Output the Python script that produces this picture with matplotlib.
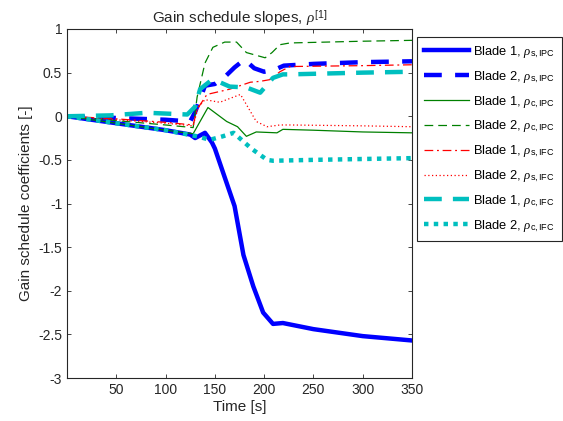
import numpy as np
import matplotlib
matplotlib.use("Agg")
import matplotlib.pyplot as plt

plt.rcParams["font.family"] = ["Liberation Sans", "DejaVu Sans"]
plt.rcParams["axes.unicode_minus"] = False
plt.rcParams["mathtext.fontset"] = "custom"
plt.rcParams["mathtext.rm"] = "Liberation Sans"
plt.rcParams["mathtext.it"] = "Liberation Serif:italic"

# --- data ---
t_b1_s_ipc = [0, 25, 50, 75, 100, 125, 130, 140, 147, 150, 160, 170, 179, 189, 199, 209, 219, 250, 300, 350]
b1_s_ipc = [0, -0.04, -0.08, -0.12, -0.16, -0.21, -0.25, -0.19, -0.30, -0.37, -0.70, -1.03, -1.59, -1.95,
            -2.25, -2.38, -2.37, -2.44, -2.52, -2.57]

t_b2_s_ipc = [0, 50, 100, 125, 130, 135, 140, 150, 160, 170, 180, 190, 200, 210, 220, 250, 300, 350]
b2_s_ipc = [0, -0.02, -0.04, -0.06, 0.05, 0.2, 0.35, 0.37, 0.45, 0.56, 0.65, 0.55, 0.51, 0.53, 0.58, 0.60, 0.62, 0.63]

t_b1_c_ipc = [0, 50, 100, 128, 143, 162, 173, 182, 192, 213, 219, 250, 300, 350]
b1_c_ipc = [0, -0.08, -0.16, -0.20, 0.10, -0.06, -0.12, -0.23, -0.18, -0.19, -0.15, -0.16, -0.18, -0.19]

t_b2_c_ipc = [0, 50, 100, 128, 132, 140, 148, 160, 172, 182, 201, 208, 216, 226, 300, 350]
b2_c_ipc = [0, -0.05, -0.10, -0.13, 0.22, 0.61, 0.79, 0.85, 0.85, 0.73, 0.67, 0.73, 0.82, 0.84, 0.86, 0.87]

t_b1_s_ifc = [0, 50, 100, 128, 132, 142, 165, 186, 196, 206, 216, 226, 300, 350]
b1_s_ifc = [0, -0.03, -0.07, -0.10, 0.08, 0.25, 0.31, 0.39, 0.40, 0.42, 0.51, 0.57, 0.58, 0.59]

t_b2_s_ifc = [0, 50, 100, 128, 133, 140, 155, 176, 192, 203, 216, 226, 300, 350]
b2_s_ifc = [0, -0.04, -0.08, -0.11, 0.10, 0.19, 0.16, 0.25, -0.06, -0.12, -0.10, -0.10, -0.11, -0.12]

t_b1_c_ifc = [0, 44, 81, 122, 130, 135, 145, 155, 165, 182, 196, 209, 219, 226, 300, 350]
b1_c_ifc = [0, 0.01, 0.04, 0.02, 0.11, 0.31, 0.40, 0.39, 0.34, 0.33, 0.27, 0.44, 0.48, 0.48, 0.50, 0.51]

t_b2_c_ifc = [0, 50, 100, 132, 145, 158, 169, 177, 187, 203, 209, 250, 300, 350]
b2_c_ifc = [0, -0.08, -0.16, -0.23, -0.27, -0.23, -0.19, -0.27, -0.37, -0.50, -0.51, -0.50, -0.49, -0.48]

labels = [
    r"Blade 1, $\rho_{\mathrm{s,IPC}}$",
    r"Blade 2, $\rho_{\mathrm{s,IPC}}$",
    r"Blade 1, $\rho_{\mathrm{c,IPC}}$",
    r"Blade 2, $\rho_{\mathrm{c,IPC}}$",
    r"Blade 1, $\rho_{\mathrm{s,IFC}}$",
    r"Blade 2, $\rho_{\mathrm{s,IFC}}$",
    r"Blade 1, $\rho_{\mathrm{c,IFC}}$",
    r"Blade 2, $\rho_{\mathrm{c,IFC}}$",
]

blue = (0, 0, 1)
green = (0, 0.5, 0)
red = (1, 0, 0)
cyan = (0, 0.75, 0.75)

fig = plt.figure(figsize=(5.63, 4.21), dpi=100)
ax = fig.add_axes([67 / 563, 1 - 378 / 421, 345 / 563, 349 / 421])

ax.plot(t_b1_s_ipc, b1_s_ipc, color=blue, lw=3.2, ls="-", label=labels[0])
ax.plot(t_b2_s_ipc, b2_s_ipc, color=blue, lw=3.2, ls=(0, (4, 3)), label=labels[1])
ax.plot(t_b1_c_ipc, b1_c_ipc, color=green, lw=0.9, ls="-", label=labels[2])
ax.plot(t_b2_c_ipc, b2_c_ipc, color=green, lw=0.9, ls=(0, (7, 4)), label=labels[3])
ax.plot(t_b1_s_ifc, b1_s_ifc, color=red, lw=0.9, ls=(0, (7, 3, 1.5, 3)), label=labels[4])
ax.plot(t_b2_s_ifc, b2_s_ifc, color=red, lw=0.9, ls=(0, (1, 2)), label=labels[5])
ax.plot(t_b1_c_ifc, b1_c_ifc, color=cyan, lw=3.2, ls=(0, (4, 2.5)), label=labels[6])
ax.plot(t_b2_c_ifc, b2_c_ifc, color=cyan, lw=3.2, ls=(0, (1, 1.2)), label=labels[7])

ax.set_xlim(0, 350)
ax.set_ylim(-3, 1)
ax.set_xticks([50, 100, 150, 200, 250, 300, 350])
ax.set_yticks(np.arange(-3, 1.01, 0.5))
ax.set_yticklabels(["-3", "-2.5", "-2", "-1.5", "-1", "-0.5", "0", "0.5", "1"])
ax.tick_params(direction="in", top=True, right=True, labelsize=10, length=3, width=0.6, colors="#262626")
for sp in ax.spines.values():
    sp.set_linewidth(0.8)
    sp.set_color("#262626")

ax.set_xlabel("Time [s]", fontsize=11, color="#262626", labelpad=2)
ax.set_ylabel("Gain schedule coefficients [-]", fontsize=11, color="#262626", labelpad=4)
ax.set_title(r"Gain schedule slopes, $\rho^{[1]}$", fontsize=11, color="#262626", pad=4)

leg = fig.legend(loc="upper left", bbox_to_anchor=(417 / 563, 1 - 37 / 421),
                 fontsize=9.3, handlelength=3.5, labelspacing=0.7, borderpad=0.55,
                 handletextpad=0.3, borderaxespad=0, fancybox=False, framealpha=1, edgecolor="#262626")
leg.get_frame().set_linewidth(0.8)

fig.savefig("out.png", dpi=100)
